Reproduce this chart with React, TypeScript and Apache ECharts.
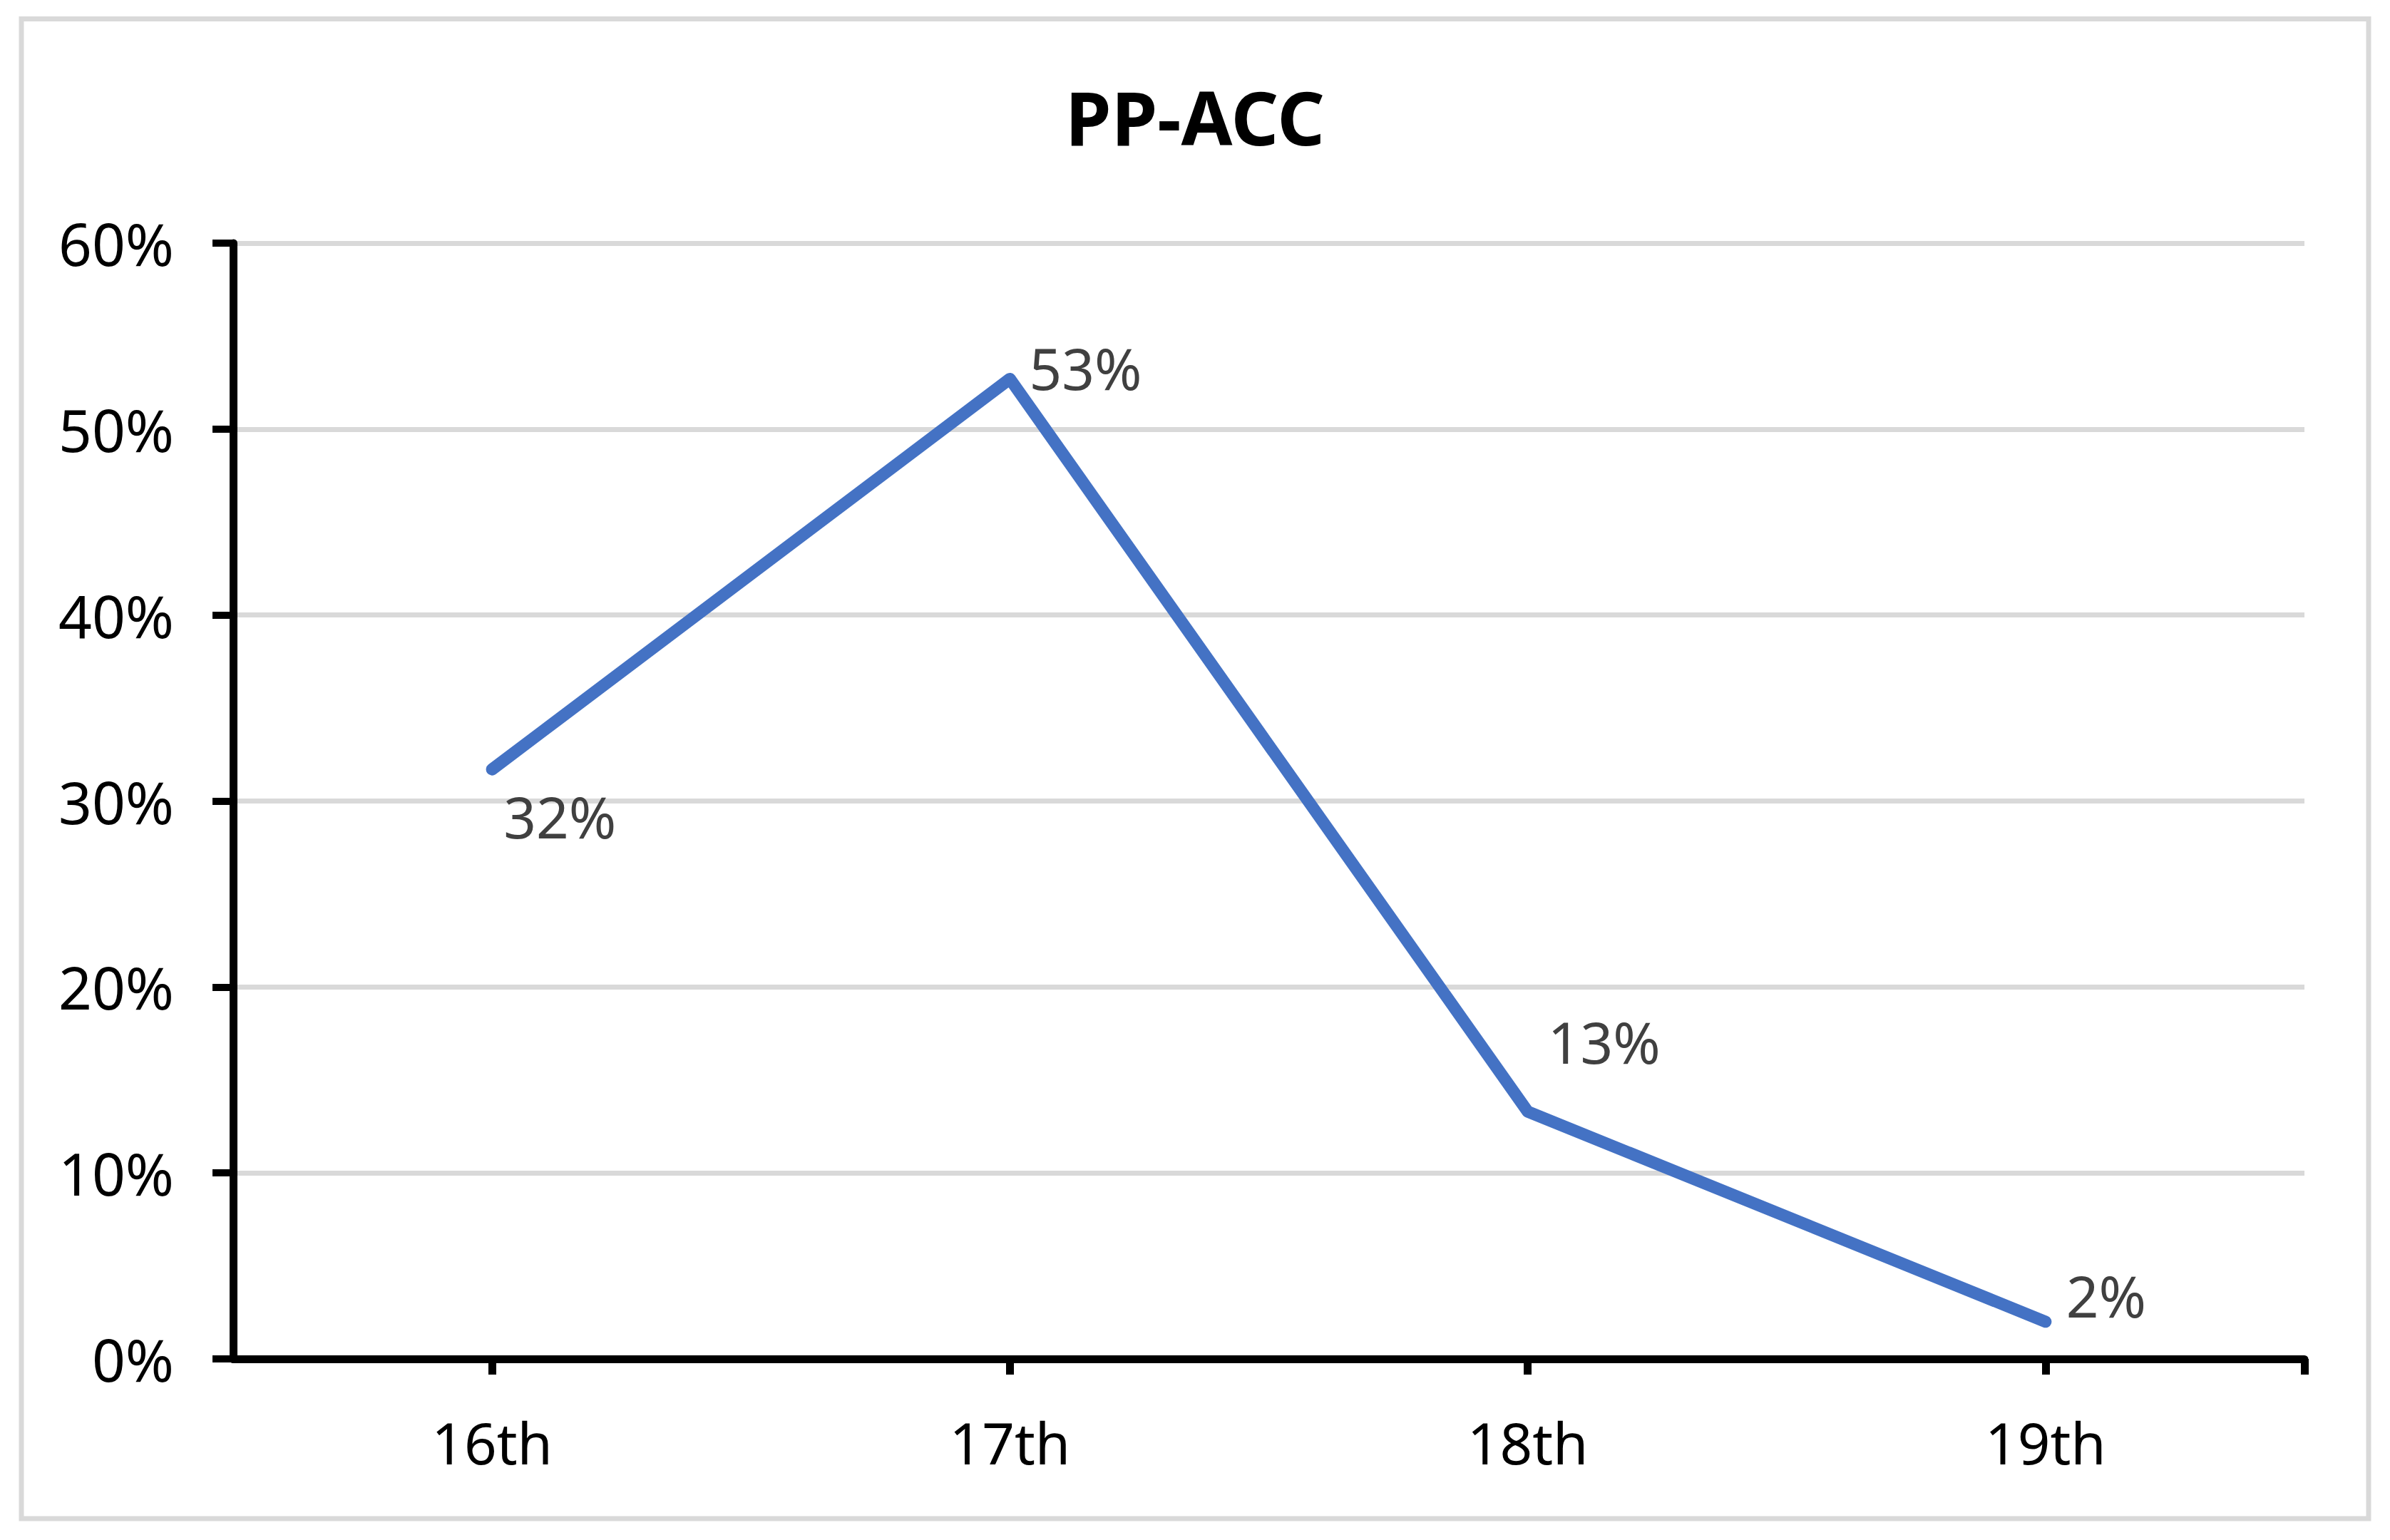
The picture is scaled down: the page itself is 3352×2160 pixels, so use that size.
import React, { useEffect, useRef } from "react";
import * as echarts from "echarts";

// ---- data ----
const categories: string[] = ["16th", "17th", "18th", "19th"];
const seriesName = "PP-ACC";
const values: number[] = [0.317, 0.527, 0.133, 0.02];
const yMin = 0;
const yMax = 0.6;
const yInterval = 0.1;

// ---- styling (kept apart from data) ----
const labelOffsets: number[][] = [
  [95, 65],
  [106, -16],
  [107, -99],
  [85, -37],
];
const FONT = "Noto Sans";
const pct = (v: number) => Math.round(v * 100) + "%";

export default function App() {
  const ref = useRef<HTMLDivElement>(null);

  useEffect(() => {
    if (!ref.current) return;
    const chart = echarts.init(ref.current, null, { renderer: "svg" });
    chart.setOption({
      animation: false,
      backgroundColor: "#ffffff",
      graphic: [
        {
          type: "rect",
          z: -10,
          silent: true,
          shape: { x: 30, y: 26.5, width: 3292, height: 2103.5 },
          style: { fill: "#ffffff", stroke: "#d9d9d9", lineWidth: 7 },
        },
      ],
      title: {
        text: seriesName,
        left: "center",
        top: 111,
        padding: 0,
        textStyle: {
          fontFamily: FONT,
          fontWeight: "bold",
          fontSize: 104,
          lineHeight: 104,
          color: "#000000",
        },
      },
      grid: { left: 327, right: 120, top: 341, bottom: 254, containLabel: false },
      xAxis: [
        {
          type: "category",
          data: categories,
          boundaryGap: true,
          axisLine: { show: true, lineStyle: { color: "#000000", width: 11 } },
          axisTick: {
            show: true,
            alignWithLabel: true,
            inside: false,
            length: 22,
            lineStyle: { color: "#000000", width: 11 },
          },
          axisLabel: {
            fontFamily: FONT,
            fontSize: 80,
            lineHeight: 80,
            color: "#000000",
            margin: 76,
          },
          splitLine: { show: false },
        },
        {
          type: "value",
          min: 0,
          max: 4,
          interval: 4,
          position: "bottom",
          axisLine: { show: false },
          axisLabel: { show: false },
          splitLine: { show: false },
          axisTick: {
            show: true,
            length: 22,
            customValues: [4],
            lineStyle: { color: "#000000", width: 11 },
          },
        },
      ],
      yAxis: {
        type: "value",
        min: yMin,
        max: yMax,
        interval: yInterval,
        axisLine: { show: true, lineStyle: { color: "#000000", width: 11 } },
        axisTick: {
          show: true,
          inside: false,
          length: 29,
          lineStyle: { color: "#000000", width: 10 },
        },
        axisLabel: {
          formatter: (v: number) => pct(v),
          fontFamily: FONT,
          fontSize: 82,
          color: "#000000",
          margin: 83,
        },
        splitLine: { show: true, lineStyle: { color: "#d9d9d9", width: 7 } },
      },
      series: [
        {
          name: seriesName,
          type: "line",
          xAxisIndex: 0,
          data: values.map((v, i) => ({
            value: v,
            label: { offset: labelOffsets[i] },
          })),
          symbol: "circle",
          symbolSize: 2,
          showSymbol: true,
          itemStyle: { color: "#4472C4" },
          lineStyle: { color: "#4472C4", width: 17, cap: "round", join: "round" },
          label: {
            show: true,
            position: "inside",
            align: "center",
            verticalAlign: "middle",
            formatter: (p: any) => pct(p.value),
            fontFamily: FONT,
            fontSize: 80,
            color: "#404040",
          },
          z: 3,
        },
      ],
    });
    return () => chart.dispose();
  }, []);

  return (
    <div
      ref={ref}
      style={{ position: "absolute", left: 0, top: 0, width: 3352, height: 2160 }}
    />
  );
}
